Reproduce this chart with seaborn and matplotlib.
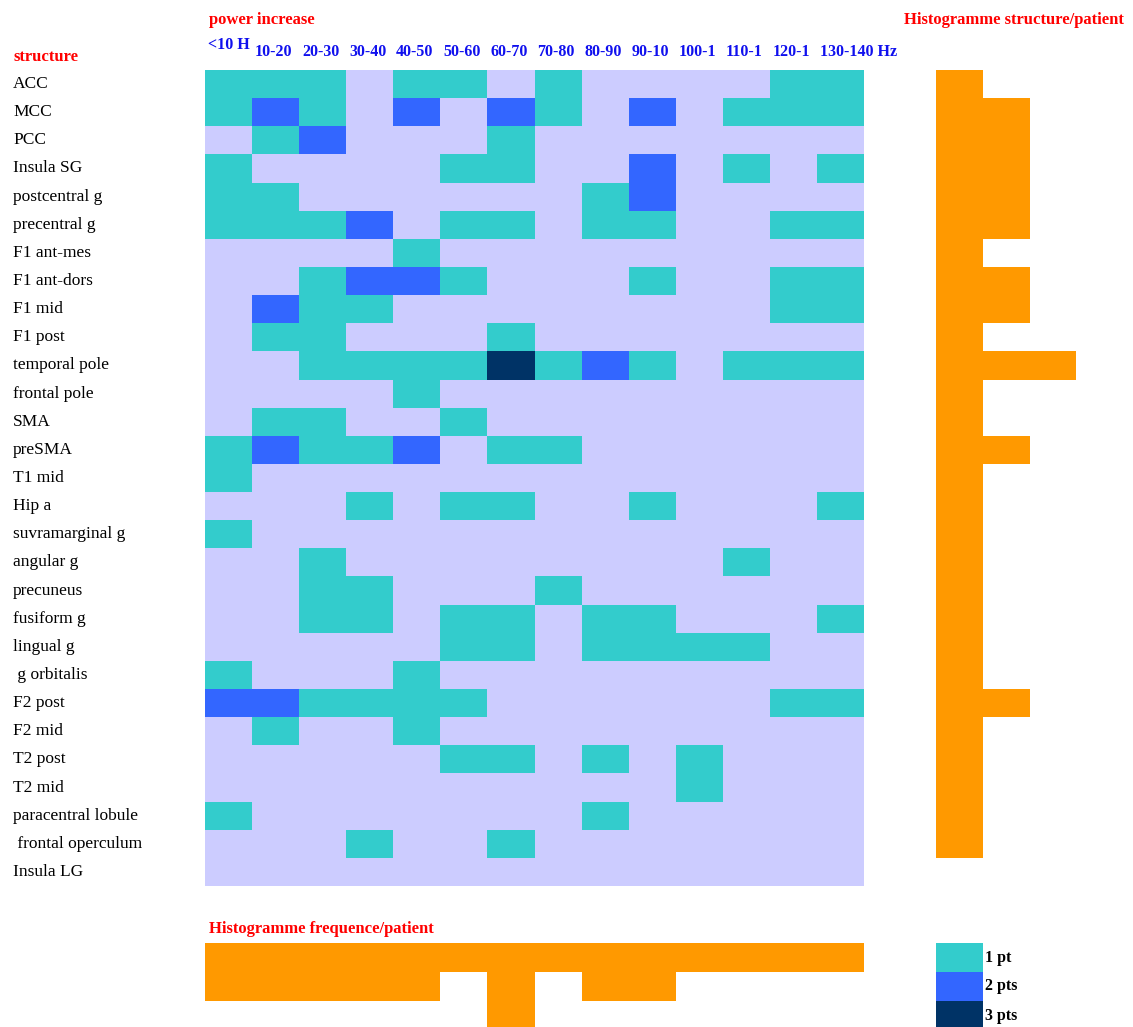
import numpy as np
import pandas as pd
import matplotlib
matplotlib.use('Agg')
import matplotlib.pyplot as plt
from matplotlib.colors import ListedColormap
import seaborn as sns

structures = ['ACC', 'MCC', 'PCC', 'Insula SG', 'postcentral g', 'precentral g',
              'F1 ant-mes', 'F1 ant-dors', 'F1 mid', 'F1 post', 'temporal pole',
              'frontal pole', 'SMA', 'preSMA', 'T1 mid', 'Hip a', 'suvramarginal g',
              'angular g', 'precuneus', 'fusiform g', 'lingual g', ' g orbitalis',
              'F2 post', 'F2 mid', 'T2 post', 'T2 mid', 'paracentral lobule',
              ' frontal operculum', 'Insula LG']
bands = ['<10 H', '10-20', '20-30', '30-40', '40-50', '50-60', '60-70', '70-80',
         '80-90', '90-10', '100-1', '110-1', '120-1', '130-140 Hz']

# number of patients with a power increase, structure x frequency band
counts = [
    [1, 1, 1, 0, 1, 1, 0, 1, 0, 0, 0, 0, 1, 1],
    [1, 2, 1, 0, 2, 0, 2, 1, 0, 2, 0, 1, 1, 1],
    [0, 1, 2, 0, 0, 0, 1, 0, 0, 0, 0, 0, 0, 0],
    [1, 0, 0, 0, 0, 1, 1, 0, 0, 2, 0, 1, 0, 1],
    [1, 1, 0, 0, 0, 0, 0, 0, 1, 2, 0, 0, 0, 0],
    [1, 1, 1, 2, 0, 1, 1, 0, 1, 1, 0, 0, 1, 1],
    [0, 0, 0, 0, 1, 0, 0, 0, 0, 0, 0, 0, 0, 0],
    [0, 0, 1, 2, 2, 1, 0, 0, 0, 1, 0, 0, 1, 1],
    [0, 2, 1, 1, 0, 0, 0, 0, 0, 0, 0, 0, 1, 1],
    [0, 1, 1, 0, 0, 0, 1, 0, 0, 0, 0, 0, 0, 0],
    [0, 0, 1, 1, 1, 1, 3, 1, 2, 1, 0, 1, 1, 1],
    [0, 0, 0, 0, 1, 0, 0, 0, 0, 0, 0, 0, 0, 0],
    [0, 1, 1, 0, 0, 1, 0, 0, 0, 0, 0, 0, 0, 0],
    [1, 2, 1, 1, 2, 0, 1, 1, 0, 0, 0, 0, 0, 0],
    [1, 0, 0, 0, 0, 0, 0, 0, 0, 0, 0, 0, 0, 0],
    [0, 0, 0, 1, 0, 1, 1, 0, 0, 1, 0, 0, 0, 1],
    [1, 0, 0, 0, 0, 0, 0, 0, 0, 0, 0, 0, 0, 0],
    [0, 0, 1, 0, 0, 0, 0, 0, 0, 0, 0, 1, 0, 0],
    [0, 0, 1, 1, 0, 0, 0, 1, 0, 0, 0, 0, 0, 0],
    [0, 0, 1, 1, 0, 1, 1, 0, 1, 1, 0, 0, 0, 1],
    [0, 0, 0, 0, 0, 1, 1, 0, 1, 1, 1, 1, 0, 0],
    [1, 0, 0, 0, 1, 0, 0, 0, 0, 0, 0, 0, 0, 0],
    [2, 2, 1, 1, 1, 1, 0, 0, 0, 0, 0, 0, 1, 1],
    [0, 1, 0, 0, 1, 0, 0, 0, 0, 0, 0, 0, 0, 0],
    [0, 0, 0, 0, 0, 1, 1, 0, 1, 0, 1, 0, 0, 0],
    [0, 0, 0, 0, 0, 0, 0, 0, 0, 0, 1, 0, 0, 0],
    [1, 0, 0, 0, 0, 0, 0, 0, 1, 0, 0, 0, 0, 0],
    [0, 0, 0, 1, 0, 0, 1, 0, 0, 0, 0, 0, 0, 0],
    [0, 0, 0, 0, 0, 0, 0, 0, 0, 0, 0, 0, 0, 0],
]
struct_hist = [1, 2, 2, 2, 2, 2, 1, 2, 2, 1, 3, 1, 1, 2, 1, 1, 1, 1, 1, 1, 1, 1,
               2, 1, 1, 1, 1, 1, 0]
freq_hist = [2, 2, 2, 2, 2, 1, 3, 1, 2, 2, 1, 1, 1, 1]
legend_levels = [1, 2, 3]
legend_labels = ['1 pt', '2 pts', '3 pts']

LAV = '#CCCCFF'
CYAN = '#33CCCC'
BLUE = '#3366FF'
NAVY = '#003366'
ORANGE = '#FF9900'
RED = '#FF0000'
cmap = ListedColormap([LAV, CYAN, BLUE, NAVY])

sns.set_style('white')
plt.rcParams['font.family'] = ['Liberation Serif', 'DejaVu Serif']

W, H = 1133, 1027
fig = plt.figure(figsize=(W / 100, H / 100), dpi=100)


def px_axes(x0, y0, x1, y1):
    return fig.add_axes([x0 / W, 1 - y1 / H, (x1 - x0) / W, (y1 - y0) / H])


# main heatmap
ax = px_axes(205, 70, 864, 886)
df = pd.DataFrame(counts, index=structures, columns=bands)
sns.heatmap(df, cmap=cmap, vmin=-0.5, vmax=3.5, cbar=False, ax=ax,
            linewidths=0, xticklabels=False)
ax.set_yticks(np.arange(len(structures)) + 0.5)
ax.set_yticklabels(structures, rotation=0, ha='left', fontsize=12.5)
ax.tick_params(axis='y', length=0, pad=192 * 0.72, labelcolor='black')
ax.set_xlabel('')
ax.set_ylabel('')
for j, b in enumerate(bands):
    dy = -0.6 if j == 0 else -0.35
    ax.text(j + 0.06, dy, b, color='#1010EE', fontsize=11.5, fontweight='bold',
            ha='left', va='bottom', clip_on=False)

# right histogram: structures per patient
ax_r = px_axes(936, 70, 1123, 886)
sns.barplot(x=struct_hist, y=structures, orient='h', color=ORANGE, saturation=1,
            width=1, linewidth=0, ax=ax_r)
ax_r.set_xlim(0, 4)
ax_r.set_ylim(len(structures) - 0.5, -0.5)
ax_r.axis('off')

# bottom histogram: frequency per patient
ax_b = px_axes(205, 943, 864, 1030)
sns.barplot(x=bands, y=freq_hist, color=ORANGE, saturation=1, width=1,
            linewidth=0, ax=ax_b)
ax_b.set_xlim(-0.5, len(bands) - 0.5)
ax_b.set_ylim(3, 0)
ax_b.axis('off')

# legend
ax_l = px_axes(936, 943, 983, 1030)
sns.heatmap(pd.DataFrame([[v] for v in legend_levels]), cmap=cmap, vmin=-0.5, vmax=3.5,
            cbar=False, ax=ax_l, xticklabels=False, yticklabels=False)
for i, lab in enumerate(legend_labels):
    ax_l.text(1.05, i + 0.5, lab, fontsize=11.5, fontweight='bold', ha='left',
              va='center', clip_on=False, color='black')

# headers
fig.text(209 / W, 1 - 20 / H, 'power increase', color=RED, fontsize=12,
         fontweight='bold', ha='left', va='center')
fig.text(13 / W, 1 - 57 / H, 'structure', color=RED, fontsize=12,
         fontweight='bold', ha='left', va='center')
fig.text(1124 / W, 1 - 20 / H, 'Histogramme structure/patient', color=RED,
         fontsize=12, fontweight='bold', ha='right', va='center')
fig.text(209 / W, 1 - 929 / H, 'Histogramme frequence/patient', color=RED,
         fontsize=12, fontweight='bold', ha='left', va='center')

fig.savefig('out.png', dpi=100, facecolor='white')
